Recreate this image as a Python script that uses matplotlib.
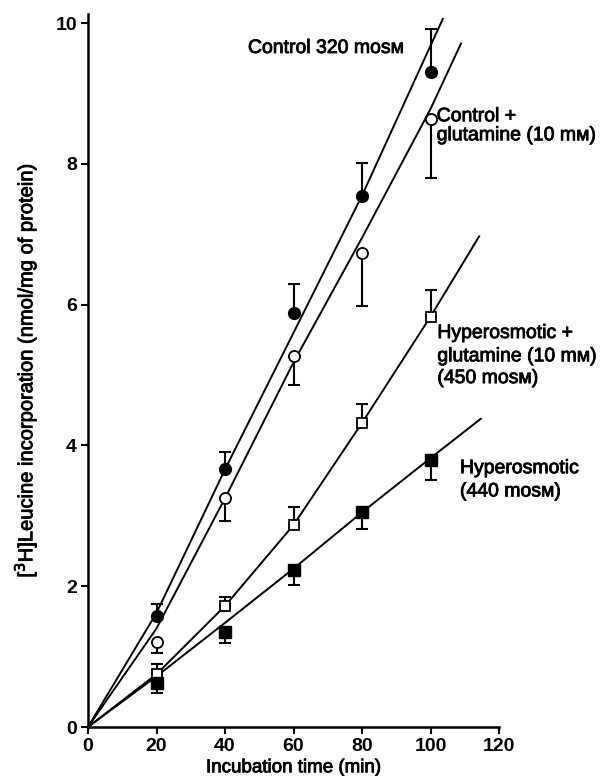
import numpy as np
import matplotlib
matplotlib.use('Agg')
import matplotlib.pyplot as plt
import matplotlib.patheffects as pe

plt.rcParams['font.family'] = ['Liberation Sans', 'DejaVu Sans']

# measured points (min, nmol/mg)
times = [20, 40, 60, 80, 100]
control = [1.58, 3.66, 5.88, 7.55, 9.31]
control_err = [0.17, 0.24, 0.41, 0.46, 0.60]
glut = [1.21, 3.25, 5.27, 6.74, 8.64]
glut_err = [0.16, 0.33, 0.41, 0.76, 0.84]
hyper_glut = [0.75, 1.72, 2.87, 4.32, 5.83]
hyper_glut_err = [0.15, 0.13, 0.25, 0.27, 0.38]
hyper = [0.62, 1.35, 2.23, 3.06, 3.79]
hyper_err = [0.13, 0.15, 0.21, 0.25, 0.28]

# drawn curves
control_fit_x = [0, 20, 40, 60, 80, 100, 103.6]
control_fit_y = [0, 1.62, 3.66, 5.60, 7.55, 9.68, 10.06]
glut_fit_x = [0, 20, 40, 60, 80, 100, 108.9]
glut_fit_y = [0, 1.40, 3.25, 5.18, 6.95, 8.78, 9.71]
hyper_glut_fit_x = [0, 20, 40, 60, 80, 100, 114.2]
hyper_glut_fit_y = [0, 0.75, 1.72, 2.87, 4.32, 5.83, 6.97]
hyper_fit_x = [0, 20, 40, 60, 80, 100, 114.7]
hyper_fit_y = [0, 0.72, 1.48, 2.25, 3.05, 3.82, 4.38]

fig = plt.figure(figsize=(6.03, 7.76), dpi=100)
ax = fig.add_axes([88/603., 1 - 727/776., (499 - 88)/603., (727 - 14)/776.])

lw = 1.4
for fx, fy in [(control_fit_x, control_fit_y), (glut_fit_x, glut_fit_y),
               (hyper_glut_fit_x, hyper_glut_fit_y), (hyper_fit_x, hyper_fit_y)]:
    ax.plot(fx, fy, color='black', lw=lw, zorder=2)

zero = [0] * 5
# one-sided error bars
eb = dict(fmt='none', ecolor='black', elinewidth=1.5, capsize=4.5, capthick=1.5, zorder=3)
ax.errorbar(times, control, yerr=[zero, control_err], **eb)
ax.errorbar(times, glut, yerr=[glut_err, zero], **eb)
ax.errorbar(times, hyper_glut, yerr=[zero, hyper_glut_err], **eb)
ax.errorbar(times, hyper, yerr=[hyper_err, zero], **eb)

ax.plot(times, control, 'o', ms=8.5, mfc='black', mec='black', zorder=4)
ax.plot(times, glut, 'o', ms=8, mfc='white', mec='black', mew=1.3, zorder=4)
ax.plot(times, hyper_glut, 's', ms=7.5, mfc='white', mec='black', mew=1.3, zorder=4)
ax.plot(times, hyper, 's', ms=8, mfc='black', mec='black', zorder=4)

ax.set_xlim(0, 120)
ax.set_ylim(0, 10.13)
ax.set_xticks([0, 20, 40, 60, 80, 100, 120])
ax.set_yticks([0, 2, 4, 6, 8, 10])
ax.spines['top'].set_visible(False)
ax.spines['right'].set_visible(False)
ax.spines['left'].set_linewidth(1.8)
ax.spines['bottom'].set_linewidth(1.8)
ax.tick_params(direction='out', length=5, width=1.5, labelsize=14, pad=3)
for lab in ax.get_xticklabels() + ax.get_yticklabels():
    lab.set_fontweight('bold')

# a thin stroke makes the regular face look like the medium weight of the print
heavier = [pe.withStroke(linewidth=0.6, foreground='black')]
xl = ax.set_xlabel('Incubation time (min)', fontsize=13.5, labelpad=3)
yl = ax.set_ylabel(r'[$^{3}$H]Leucine incorporation (nmol/mg of protein)', fontsize=14.5, labelpad=12)
xl.set_path_effects(heavier)
yl.set_path_effects(heavier)

tk = dict(fontsize=14, va='center', ha='left', path_effects=heavier)
ax.text(46.7, 9.64, 'Control 320 mosᴍ', **tk)
ax.text(101.8, 8.67, 'Control +', **tk)
ax.text(101.8, 8.40, 'glutamine (10 mᴍ)', **tk)
ax.text(102, 5.59, 'Hyperosmotic +', **tk)
ax.text(102, 5.26, 'glutamine (10 mᴍ)', **tk)
ax.text(102, 4.95, '(450 mosᴍ)', **tk)
ax.text(108.6, 3.67, 'Hyperosmotic', **tk)
ax.text(108.6, 3.34, '(440 mosᴍ)', **tk)

for t in ax.texts:
    t.set_clip_on(False)

fig.savefig('out.png', dpi=100)
